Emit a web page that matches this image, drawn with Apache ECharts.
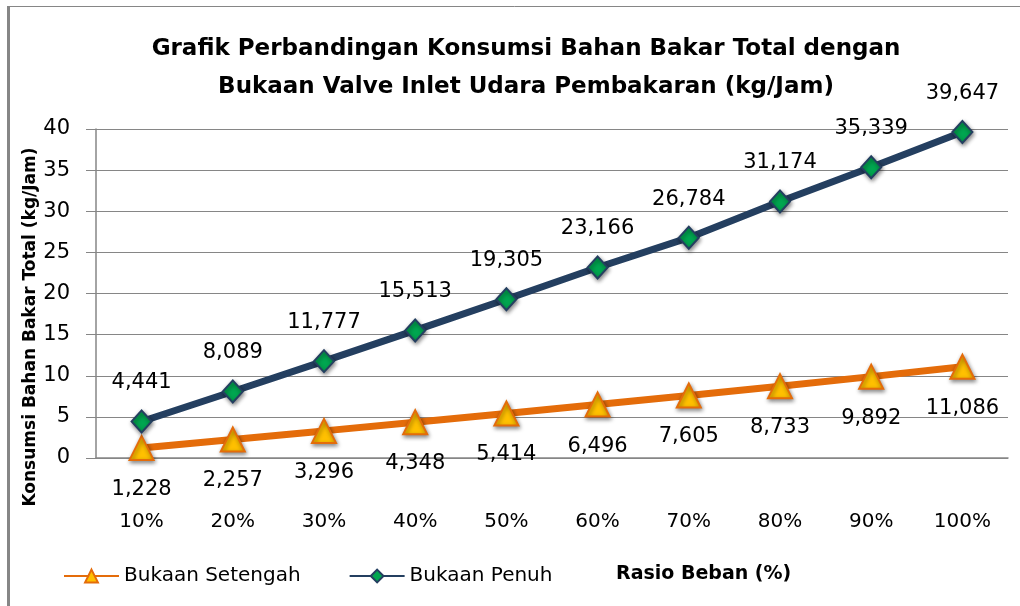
<!DOCTYPE html>
<html lang="id" style="height: 100%">
<head>
  <meta charset="utf-8">
</head>
<body style="height: 100%; margin: 0; background: #fff">
  <div id="container" style="height: 100%"></div>

<script type="text/javascript" src="https://cdn.jsdelivr.net/npm/echarts@6/dist/echarts.min.js"></script>

<script type="text/javascript">
var dom = document.getElementById('container');
var myChart = echarts.init(dom, null, { renderer: 'canvas' });

// data
var categories = ['10%', '20%', '30%', '40%', '50%', '60%', '70%', '80%', '90%', '100%'];
var bukaanSetengah = [1.228, 2.257, 3.296, 4.348, 5.414, 6.496, 7.605, 8.733, 9.892, 11.086];
var bukaanPenuh = [4.441, 8.089, 11.777, 15.513, 19.305, 23.166, 26.784, 31.174, 35.339, 39.647];

var FONT = '"DejaVu Sans"';
var GRID = '#868686';

function fmt(p) {
  return p.value.toFixed(3).replace('.', ',');
}

var option = {
  backgroundColor: '#fff',
  textStyle: { fontFamily: FONT },
  title: {
    text: 'Grafik Perbandingan Konsumsi Bahan Bakar Total dengan\nBukaan Valve Inlet Udara Pembakaran (kg/Jam)',
    left: 521,
    textAlign: 'center',
    top: 25,
    textStyle: { fontFamily: FONT, fontSize: 23, fontWeight: 'bold', color: '#000', lineHeight: 38 }
  },
  legend: {
    left: 58,
    top: 561,
    itemWidth: 55,
    itemHeight: 16,
    itemGap: 48,
    textStyle: { fontFamily: FONT, fontSize: 20, color: '#000' },
    data: ['Bukaan Setengah', 'Bukaan Penuh']
  },
  graphic: [
    {
      type: 'text', left: 616, top: 565,
      style: { text: 'Rasio Beban (%)', font: 'bold 19px ' + FONT, fill: '#000' }
    },
    {
      type: 'text', x: 31, y: 327, rotation: Math.PI / 2,
      style: {
        text: 'Konsumsi Bahan Bakar Total (kg/Jam)', font: 'bold 17px ' + FONT,
        fill: '#000', align: 'center', verticalAlign: 'middle'
      }
    },
    {
      type: 'polyline', silent: true,
      shape: { points: [[8.5, 606], [8.5, 6.5], [1020, 6.5]] },
      style: { stroke: GRID, lineWidth: 1, fill: null }
    },
    {
      type: 'line', silent: true,
      shape: { x1: 8.5, y1: 6, x2: 8.5, y2: 606 },
      style: { stroke: GRID, lineWidth: 3 }
    }
  ],
  grid: { left: 96, right: 12, top: 129, bottom: 148 },
  xAxis: {
    type: 'category',
    data: categories,
    boundaryGap: true,
    axisLine: { lineStyle: { color: GRID, width: 1.5 } },
    axisTick: { length: 9, lineStyle: { color: GRID, width: 1.5 } },
    axisLabel: { margin: 54, fontSize: 20, color: '#000', fontFamily: FONT }
  },
  yAxis: {
    type: 'value',
    min: 0,
    max: 40,
    interval: 5,
    axisLine: { show: true, lineStyle: { color: GRID, width: 1.5 } },
    axisTick: { show: true, length: 10, lineStyle: { color: GRID, width: 1 } },
    axisLabel: { margin: 26, fontSize: 21, color: '#000', fontFamily: FONT },
    splitLine: { lineStyle: { color: GRID, width: 1 } }
  },
  series: [
    {
      name: 'Bukaan Setengah',
      type: 'line',
      data: bukaanSetengah,
      symbol: 'triangle',
      symbolSize: [24, 24],
      lineStyle: { color: '#E46C0A', width: 7 },
      itemStyle: {
        color: '#FFC000', borderColor: '#E46C0A', borderWidth: 2,
        shadowBlur: 4, shadowColor: 'rgba(0,0,0,0.45)', shadowOffsetX: 1, shadowOffsetY: 2
      },
      label: {
        show: true, position: 'bottom', distance: 18,
        fontSize: 21, color: '#000', fontFamily: FONT, formatter: fmt
      },
      z: 3
    },
    {
      name: 'Bukaan Penuh',
      type: 'line',
      data: bukaanPenuh,
      symbol: 'diamond',
      symbolSize: [20, 22],
      lineStyle: { color: '#243F60', width: 7 },
      itemStyle: {
        color: '#00A650', borderColor: '#243F60', borderWidth: 2,
        shadowBlur: 4, shadowColor: 'rgba(0,0,0,0.45)', shadowOffsetX: 1, shadowOffsetY: 2
      },
      label: {
        show: true, position: 'top', distance: 16,
        fontSize: 21, color: '#000', fontFamily: FONT, formatter: fmt
      },
      z: 4
    }
  ]
};

myChart.setOption(option);
window.addEventListener('resize', myChart.resize);
</script>
</body>
</html>
